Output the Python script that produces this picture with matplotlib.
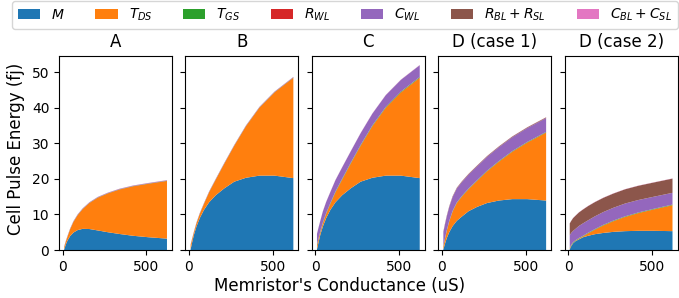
import matplotlib
matplotlib.use('Agg')
import matplotlib.pyplot as plt

# conductance samples (uS), shared by all panels
g_us = [10, 20, 30, 45, 65, 90, 120, 160, 210, 270, 340, 420, 510, 622]

labels = ['$M$', '$T_{DS}$', '$T_{GS}$', '$R_{WL}$', '$C_{WL}$',
          '$R_{BL}+R_{SL}$', '$C_{BL}+C_{SL}$']
titles = ['A', 'B', 'C', 'D (case 1)', 'D (case 2)']

# tiny contributions, same in several panels
tiny_02 = [0.02, 0.02, 0.02, 0.02, 0.02, 0.02, 0.02, 0.02, 0.02, 0.02, 0.02, 0.02, 0.02, 0.02]
tiny_05 = [0.05, 0.05, 0.05, 0.05, 0.05, 0.05, 0.05, 0.05, 0.05, 0.05, 0.05, 0.05, 0.05, 0.05]
tiny_10 = [0.1, 0.1, 0.1, 0.1, 0.1, 0.1, 0.1, 0.1, 0.1, 0.1, 0.1, 0.1, 0.1, 0.1]
tgs_15 = [0.15, 0.15, 0.15, 0.15, 0.15, 0.15, 0.15, 0.15, 0.15, 0.15, 0.15, 0.15, 0.15, 0.15]
tgs_20 = [0.2, 0.2, 0.2, 0.2, 0.2, 0.2, 0.2, 0.2, 0.2, 0.2, 0.2, 0.2, 0.2, 0.2]

# energy contributions (fJ)
a_m    = [0.2, 1.6, 2.7, 3.9, 4.9, 5.6, 5.95, 5.9, 5.5, 5.0, 4.5, 4.0, 3.6, 3.2]
a_tds  = [0.6, 0.8, 1.1, 1.9, 3.0, 4.2, 5.55, 7.3, 9.2, 10.9, 12.5, 13.9, 15.0, 16.2]

b_m    = [0.2, 2.3, 4.3, 6.6, 9.0, 11.3, 13.4, 15.4, 17.3, 19.2, 20.3, 20.9, 20.9, 20.2]
b_tds  = [1.1, 0.9, 0.7, 0.9, 1.2, 1.7, 2.8, 4.4, 6.9, 10.1, 14.5, 19.1, 23.4, 28.2]

c_m    = [0.2, 2.3, 4.3, 6.6, 9.0, 11.3, 13.4, 15.4, 17.3, 19.2, 20.3, 20.9, 20.9, 20.2]
c_tds  = [1.1, 0.9, 0.7, 0.9, 1.2, 1.7, 2.8, 4.4, 6.9, 10.1, 14.5, 19.1, 23.4, 28.2]
c_cwl  = [3.0, 3.0, 3.0, 3.1, 3.1, 3.1, 3.2, 3.2, 3.2, 3.3, 3.3, 3.3, 3.3, 3.3]

d1_m   = [0.2, 1.8, 3.3, 5.0, 6.7, 8.2, 9.4, 10.9, 12.1, 13.2, 13.9, 14.3, 14.3, 13.9]
d1_tds = [0.7, 1.4, 2.0, 3.0, 4.1, 5.0, 5.6, 6.2, 7.3, 8.9, 10.9, 13.3, 15.9, 19.1]
d1_cwl = [3.9, 3.9, 3.9, 3.9, 3.9, 3.9, 3.9, 3.9, 3.9, 3.9, 3.9, 3.9, 3.9, 3.9]
d1_rbl = [0.2, 0.2, 0.2, 0.2, 0.2, 0.2, 0.2, 0.2, 0.2, 0.2, 0.2, 0.2, 0.2, 0.2]

d2_m   = [0.2, 1.2, 1.9, 2.5, 3.0, 3.6, 4.0, 4.45, 4.8, 5.1, 5.3, 5.4, 5.4, 5.3]
d2_tds = [0.3, 0.2, 0.1, 0.1, 0.2, 0.25, 0.7, 1.25, 2.1, 3.0, 4.0, 5.0, 6.0, 7.3]
d2_cwl = [3.5, 3.3, 3.2, 3.2, 3.4, 3.5, 3.5, 3.6, 3.6, 3.6, 3.6, 3.5, 3.4, 3.3]
d2_rbl = [3.3, 3.4, 3.6, 3.7, 3.8, 3.9, 4.0, 4.0, 4.0, 4.0, 4.0, 4.0, 4.0, 4.0]

panels = [
    [a_m, a_tds, tiny_05, tiny_02, tiny_10, tiny_02, tiny_05],
    [b_m, b_tds, tiny_05, tiny_02, tiny_10, tiny_02, tiny_05],
    [c_m, c_tds, tgs_20, tiny_02, c_cwl, tiny_02, tiny_05],
    [d1_m, d1_tds, tgs_15, tiny_02, d1_cwl, d1_rbl, tiny_05],
    [d2_m, d2_tds, tgs_15, tiny_02, d2_cwl, d2_rbl, tiny_05],
]

fig, axes = plt.subplots(1, 5, figsize=(6.79, 2.98), dpi=100, sharey=True)
fig.subplots_adjust(left=0.087, right=0.998, top=0.813, bottom=0.161, wspace=0.118)

for ax, title, series in zip(axes, titles, panels):
    ax.stackplot(g_us, *series, labels=labels)
    ax.set_title(title, fontsize=12)
    ax.set_xticks([0, 500])

fig.legend(*axes[0].get_legend_handles_labels(), loc='lower left',
           bbox_to_anchor=(0.018, 0.903, 0.98, 0.08), mode='expand',
           ncol=7, fontsize=10, handlelength=1.6, borderaxespad=0.)
fig.supxlabel("Memristor's Conductance (uS)", fontsize=12, y=0.01)
fig.supylabel('Cell Pulse Energy (fj)', fontsize=12, x=0.01)

fig.savefig('out.png', dpi=100)
